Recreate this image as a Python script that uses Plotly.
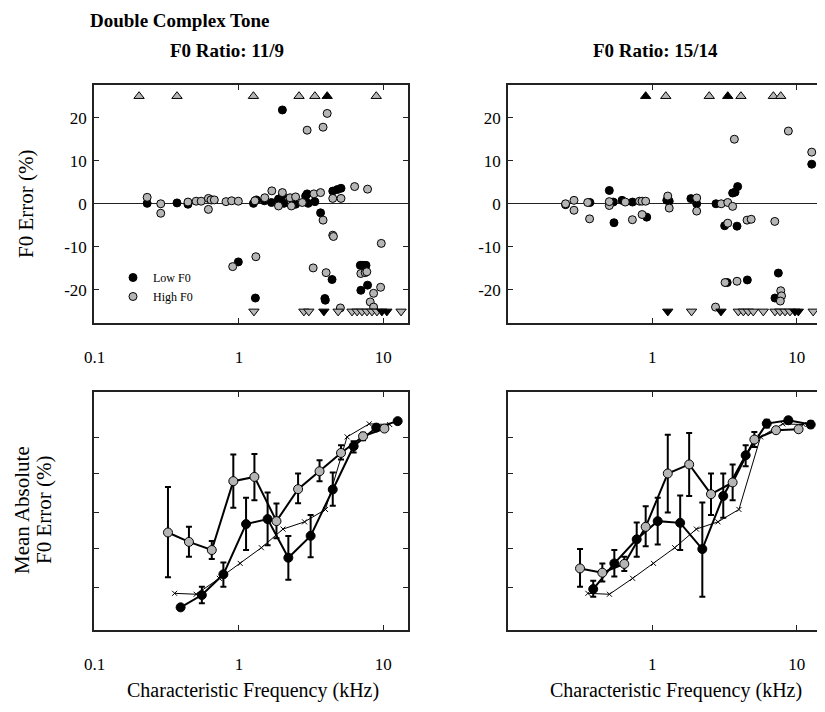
import plotly.graph_objects as go

# ---------------- DATA ----------------
CLIP = 25  # value at which out-of-range errors are plotted as triangles

# F0 ratio 11/9 -- individual fibres (CF kHz, F0 error %)
low_cf_a = [0.231, 0.372, 0.443, 0.649, 0.99, 1.26, 1.32, 1.30, 1.50, 1.68, 1.88, 2.0, 2.0, 2.05, 2.47,
            2.90, 2.97, 3.02, 3.36, 3.68, 3.94, 3.97, 4.42, 4.47, 4.80, 5.10, 6.94, 7.16, 7.37, 7.6, 7.0, 7.79]
low_err_a = [0.1, 0.2, -0.1, 0.9, -13.5, 0.1, 0.9, -21.9, 0.7, 0.3, 1.1, 2.0, 21.8, 0.1, -0.1,
             1.8, 2.3, 0.1, 0.5, -2.1, -22.0, -22.4, -17.6, 2.95, 3.3, 3.6, -14.3, -14.3, -14.3, -14.3, -20.1, -18.9]
high_cf_a = [0.231, 0.287, 0.287, 0.443, 0.505, 0.547, 0.614, 0.614, 0.64, 0.675, 0.813, 0.89, 0.99, 0.905,
             1.29, 1.31, 1.51, 1.69, 1.88, 2.0, 2.26, 2.31, 2.47, 2.75, 3.31, 3.68, 3.83, 2.97, 3.83, 4.09,
             3.27, 4.02, 4.47, 4.52, 4.47, 5.10, 6.34, 7.79, 7.0, 7.5, 7.7, 8.13, 8.58, 8.58, 9.6, 9.7, 5.05]
high_err_a = [1.5, 0.0, -2.2, 0.4, 0.6, 0.6, 1.25, -1.3, 0.9, 0.9, 0.5, 0.7, 0.6, -14.6,
              0.7, -12.3, 1.4, 3.0, -0.5, 2.6, 1.4, -0.5, 1.6, 0.3, 2.3, 2.6, -3.8, 17.1, 17.8, 21.0,
              -14.9, -16.0, -7.3, -7.6, 1.25, 1.25, 4.0, 3.4, -16.2, -16.0, -15.8, -22.8, -20.8, -24.0, -19.4, -9.2, -24.2]
up_low_a = [4.09]
up_high_a = [0.203, 0.372, 1.26, 2.61, 3.36, 8.95]
down_low_a = [3.88, 9.79, 10.6]
down_high_a = [1.27, 2.82, 3.05, 4.87, 6.08, 6.59, 7.13, 7.72, 8.36, 9.05, 13.3]

# F0 ratio 15/14 -- individual fibres
low_cf_b = [0.251, 0.37, 0.504, 0.537, 0.543, 0.617, 0.73, 0.915, 1.26, 1.31, 1.85, 2.03, 2.76, 3.60,
            3.74, 3.9, 3.17, 3.86, 3.3, 4.55, 7.46, 7.07, 12.7]
low_err_b = [-0.2, 0.3, 3.1, 0.4, -4.4, 0.8, 0.4, -3.1, 0.8, 0.6, 1.2, 0.0, 0.0, 2.5,
             2.7, 4.0, -5.1, -5.2, -18.3, -17.7, -16.1, -21.9, 9.2]
high_cf_b = [0.251, 0.287, 0.287, 0.357, 0.368, 0.504, 0.504, 0.65, 0.728, 0.815, 0.85, 0.9, 0.85,
             1.28, 1.31, 2.03, 2.03, 3.0, 3.33, 3.60, 3.7, 3.33, 3.19, 3.86, 2.74, 4.53, 4.84, 7.05,
             8.75, 12.7, 7.75, 7.85, 7.7]
high_err_b = [0.0, 0.8, -1.5, 0.3, -3.5, -0.4, 0.5, 0.4, -3.7, 0.6, 0.6, 0.6, -2.5,
              1.8, -1.0, 1.35, -1.7, 0.0, 0.3, -0.6, 15.0, -4.5, -18.3, -18.0, -24.0, -3.8, -3.6, -4.1,
              16.9, 12.0, -20.2, -21.4, -22.6]
up_low_b = [0.90, 3.33]
up_high_b = [1.24, 2.48, 4.11, 6.89, 7.75]
down_low_b = [1.28, 2.99, 9.73, 10.26]
down_high_b = [1.87, 3.94, 4.27, 4.62, 5.0, 5.87, 7.07, 7.66, 8.3, 8.98, 13.0]

# Mean absolute F0 error (%) vs CF, ratio 11/9
mh_cf_a = [0.322, 0.45, 0.648, 0.914, 1.28, 1.82, 2.57, 3.62, 5.1, 7.25, 10.2]
mh_a = [1.63, 1.22, 0.95, 7.9, 9.0, 2.31, 6.18, 10.7, 18.8, 31.4, 39.8]
mh_hi_a = [6.6, 1.94, 1.25, 17.9, 18.2, 3.98, 10.0, 15.0, 23.8, 35.0, 43.0]
mh_lo_a = [0.41, 0.77, 0.72, 3.48, 4.4, 1.36, 4.0, 7.9, 15.4, 27.7, 37.0]
ml_cf_a = [0.394, 0.553, 0.78, 1.12, 1.58, 2.2, 3.14, 4.47, 6.24, 8.95, 12.6]
ml_a = [0.163, 0.238, 0.45, 2.11, 2.46, 0.75, 1.47, 6.12, 23.1, 41.0, 50.0]
ml_hi_a = [0.17, 0.308, 0.65, 4.73, 5.58, 1.46, 2.78, 10.3, 27.0, 44.0, 52.0]
ml_lo_a = [0.16, 0.185, 0.308, 0.95, 1.1, 0.38, 0.76, 3.7, 19.0, 38.0, 48.0]

# Mean absolute F0 error (%) vs CF, ratio 15/14
mh_cf_b = [0.316, 0.451, 0.64, 0.9, 1.28, 1.8, 2.55, 3.6, 5.09, 7.19, 10.3]
mh_b = [0.54, 0.473, 0.62, 1.94, 10.0, 13.2, 5.3, 7.6, 28.4, 37.8, 39.0]
mh_hi_b = [0.98, 0.63, 0.77, 3.66, 33.0, 34.8, 10.0, 13.2, 35.9, 41.0, 42.0]
mh_lo_b = [0.307, 0.36, 0.50, 1.07, 3.02, 5.0, 2.78, 4.4, 22.6, 35.0, 36.0]
ml_cf_b = [0.39, 0.546, 0.78, 1.09, 1.56, 2.22, 3.1, 4.43, 6.2, 8.75, 12.5]
ml_b = [0.286, 0.63, 1.32, 2.31, 2.19, 0.98, 5.0, 17.5, 46.4, 51.4, 45.0]
ml_hi_b = [0.37, 0.95, 2.22, 4.73, 5.1, 4.1, 10.0, 23.8, 52.0, 56.0, 50.0]
ml_lo_b = [0.226, 0.42, 0.77, 1.13, 0.95, 0.226, 2.56, 12.5, 41.0, 47.0, 41.0]

# thin line with x markers (same in both panels)
mod_cf = [0.358, 0.505, 0.731, 1.02, 1.43, 2.02, 2.85, 3.98, 5.62, 8.0, 11.1]
mod_err = [0.251, 0.244, 0.398, 0.63, 1.02, 1.81, 2.26, 3.31, 30.8, 46.0, 45.0]

x_ticks = [0.1, 1, 10]
x_ticktext = ["0.1", "1", "10"]
y_top_ticks = [-20, -10, 0, 10, 20]
y_top_text = ["-20", "-10", "0", "10", "20"]
y_bot_ticks = [0.3, 1, 3, 10, 30]

# ---------------- FIGURE ----------------
OFF = 8                      # default page margin around the plot div
W, H = 825 - OFF, 712 - OFF  # figure size so that it fits the 825x712 window
SERIF = "Liberation Serif"
GRAY = "#b5b5b5"
fig = go.Figure()


def fx(p):
    return (p - OFF) / W


def fy(p):
    return 1 - (p - OFF) / H


def px_x(a, b):
    return [fx(a), fx(b)]


def px_y(top, bot):
    return [fy(bot), fy(top)]


def scatter_panel(xa, ya, lcf, lerr, hcf, herr, upl, uph, dnl, dnh, legend):
    fig.add_trace(go.Scatter(x=lcf, y=lerr, mode="markers", name="Low F0", showlegend=legend,
                             marker=dict(size=8, color="black", line=dict(color="black", width=1)),
                             xaxis=xa, yaxis=ya))
    fig.add_trace(go.Scatter(x=hcf, y=herr, mode="markers", name="High F0", showlegend=legend,
                             marker=dict(size=8, color=GRAY, line=dict(color="black", width=1)),
                             xaxis=xa, yaxis=ya))
    for xs, sym, col, sgn in [(uph, "triangle-up", GRAY, 1), (upl, "triangle-up", "black", 1),
                              (dnh, "triangle-down", GRAY, -1), (dnl, "triangle-down", "black", -1)]:
        fig.add_trace(go.Scatter(x=xs, y=[sgn * CLIP] * len(xs), mode="markers", showlegend=False,
                                 marker=dict(symbol=sym, size=9, color=col, line=dict(color="black", width=1)),
                                 xaxis=xa, yaxis=ya))


def mean_panel(xa, ya, lcf, lv, lhi, llo, hcf, hv, hhi, hlo):
    fig.add_trace(go.Scatter(x=mod_cf, y=mod_err, mode="lines+markers", showlegend=False,
                             line=dict(color="black", width=1),
                             marker=dict(symbol="x-thin", size=5, line=dict(color="black", width=1)),
                             xaxis=xa, yaxis=ya))
    for cf, v, hi, lo, col in [(lcf, lv, lhi, llo, "black"), (hcf, hv, hhi, hlo, GRAY)]:
        fig.add_trace(go.Scatter(
            x=cf, y=v, mode="lines+markers", showlegend=False,
            line=dict(color="black", width=2),
            marker=dict(size=9, color=col, line=dict(color="black", width=1)),
            error_y=dict(type="data", symmetric=False,
                         array=[h - m for h, m in zip(hi, v)],
                         arrayminus=[m - l for m, l in zip(v, lo)],
                         color="black", thickness=2, width=3),
            xaxis=xa, yaxis=ya))


scatter_panel("x", "y", low_cf_a, low_err_a, high_cf_a, high_err_a,
              up_low_a, up_high_a, down_low_a, down_high_a, True)
scatter_panel("x2", "y2", low_cf_b, low_err_b, high_cf_b, high_err_b,
              up_low_b, up_high_b, down_low_b, down_high_b, False)
mean_panel("x3", "y3", ml_cf_a, ml_a, ml_hi_a, ml_lo_a, mh_cf_a, mh_a, mh_hi_a, mh_lo_a)
mean_panel("x4", "y4", ml_cf_b, ml_b, ml_hi_b, ml_lo_b, mh_cf_b, mh_b, mh_hi_b, mh_lo_b)

base = dict(showline=True, linecolor="#222", linewidth=1.5, mirror="ticks", ticks="inside",
            ticklen=5, tickwidth=1, tickcolor="#222", showgrid=False, zeroline=False,
            automargin=False, tickfont=dict(family=SERIF, size=17, color="black"))

xl = dict(base, type="log", range=[-1.005, 1.172], tickvals=x_ticks, ticktext=x_ticktext,
          ticklabelstandoff=18)
xr = dict(base, type="log", range=[-0.999, 1.175], tickvals=x_ticks, ticktext=x_ticktext,
          ticklabelstandoff=18)
yt = dict(base, range=[-27.7, 27.6], tickvals=y_top_ticks, ticktext=y_top_text,
          zeroline=True, zerolinecolor="#222", zerolinewidth=1.2, ticklabelstandoff=2)
yb = dict(base, type="log", range=[-1.09, 2.088], tickvals=y_bot_ticks, showticklabels=False)

fig.update_layout(
    width=W, height=H, margin=dict(l=0, r=0, t=0, b=0, autoexpand=False),
    paper_bgcolor="white", plot_bgcolor="white",
    xaxis=dict(xl, domain=px_x(94, 408), anchor="y"),
    yaxis=dict(yt, domain=px_y(85, 323), anchor="x"),
    xaxis2=dict(xr, domain=px_x(508, 822), anchor="y2"),
    yaxis2=dict(yt, domain=px_y(85, 323), anchor="x2"),
    xaxis3=dict(xl, domain=px_x(94, 408), anchor="y3"),
    yaxis3=dict(yb, domain=px_y(392, 630), anchor="x3"),
    xaxis4=dict(xr, domain=px_x(508, 822), anchor="y4"),
    yaxis4=dict(yb, domain=px_y(392, 630), anchor="x4"),
    legend=dict(x=fx(113), y=fy(263), xanchor="left", yanchor="top",
                bgcolor="rgba(0,0,0,0)", font=dict(family=SERIF, size=12, color="black"),
                tracegroupgap=0, itemwidth=30),
    font=dict(family=SERIF, color="black"),
)

ann = [
    dict(text="<b>Double Complex Tone</b>", x=88, y=8, xanchor="left", yanchor="top", size=19),
    dict(text="<b>F0 Ratio: 11/9</b>", x=227, y=50, xanchor="center", size=19),
    dict(text="<b>F0 Ratio: 15/14</b>", x=655, y=50, xanchor="center", size=19),
    dict(text="F0 Error (%)", x=26, y=204, xanchor="center", size=21, angle=-90),
    dict(text="Mean Absolute", x=22, y=510, xanchor="center", size=21, angle=-90),
    dict(text="F0 Error (%)", x=44, y=510, xanchor="center", size=21, angle=-90),
    dict(text="Characteristic Frequency (kHz)", x=253, y=690, xanchor="center", size=20),
    dict(text="Characteristic Frequency (kHz)", x=676, y=690, xanchor="center", size=20),
]
for a in ann:
    fig.add_annotation(text=a["text"], x=fx(a["x"]), y=fy(a["y"]), xref="paper", yref="paper",
                       xanchor=a["xanchor"], yanchor=a.get("yanchor", "middle"), showarrow=False,
                       textangle=a.get("angle", 0),
                       font=dict(family=SERIF, size=a["size"], color="black"))

fig.write_html("out.html")
